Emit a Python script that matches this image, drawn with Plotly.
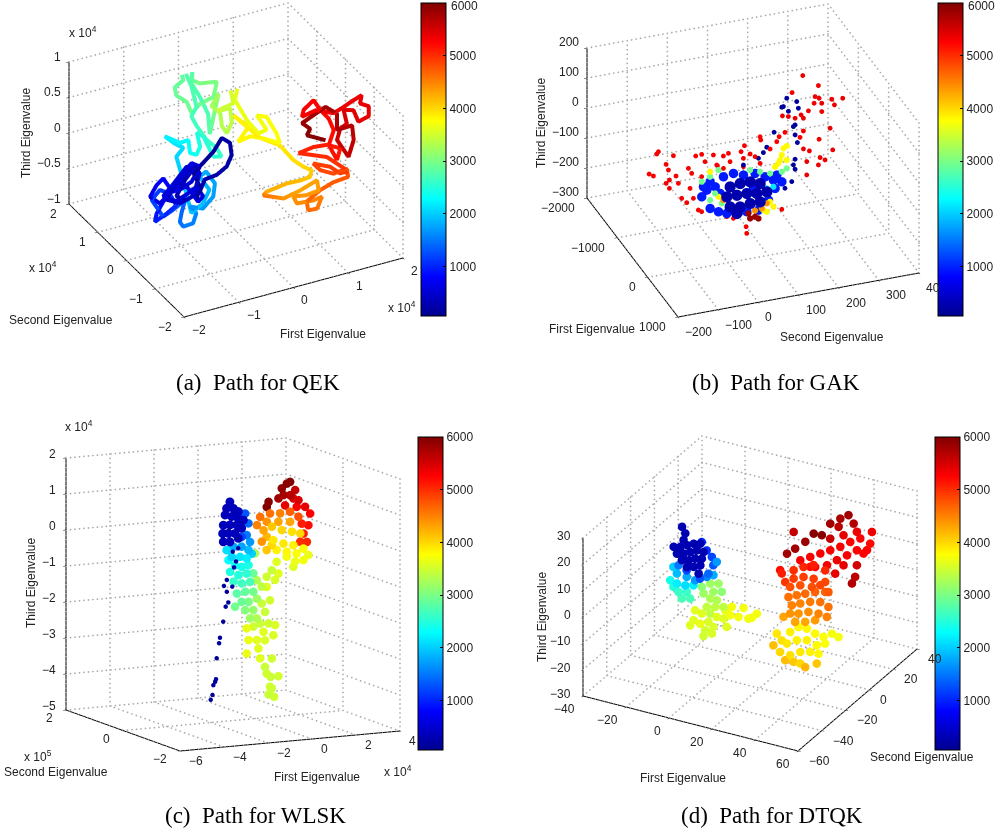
import math
import plotly.graph_objects as go

W, H = 997, 835
JET = [[0, 'rgb(0,0,143)'], [0.125, 'rgb(0,0,255)'], [0.375, 'rgb(0,255,255)'],
       [0.625, 'rgb(255,255,0)'], [0.875, 'rgb(255,0,0)'], [1, 'rgb(128,0,0)']]
CB_TICKS = [1000, 2000, 3000, 4000, 5000, 6000]

# ---------- panel (a) path, rows are (first, second, third, frame); eigenvalues in units of 1e4
A_NAVY = [(-1.14,-.8,0,60),(-1.08,-.8,.17,80),(-1.20,-.8,.39,100),(-1.02,-.8,.49,120),(-.83,-.8,.61,140),(-.68,-.8,.77,160),
 (-.53,-.8,.67,180),(-.50,-.8,.49,200),(-.59,-.8,.35,220),(-.77,-.8,.27,240),(-.99,-.8,.25,260),(-1.08,-.8,.10,280),
 (-1.32,-.8,.03,300),(-1.51,-.8,.12,320),(-1.35,-.8,.32,340),(-1.14,-.8,.49,360),(-1.32,-.8,.41,380),(-1.51,-.8,.31,400),
 (-1.69,-.8,.11,420),(-1.44,-.8,.01,440),(-1.20,-.8,.06,460),(-1.08,-.8,.36,480),(-1.32,-.8,.50,500),(-1.51,-.8,.35,520),(-1.69,-.8,.20,540)]
A_NAVY_LOOPS = [(-1.44,-.8,.20,545),(-1.23,-.8,.27,550),(-1.08,-.8,.45,555),(-1.23,-.8,.53,560),(-1.44,-.8,.39,565),(-1.63,-.8,.26,570),(-1.75,-.8,.17,575),(-1.51,-.8,.05,580),
 (-1.29,-.8,.12,585),(-1.14,-.8,.18,590),(-1.02,-.8,.02,592),(-1.11,-.8,-.04,594),(-1.32,-.8,.22,596),(-1.57,-.8,.20,598),(-1.38,-.8,.38,599),(-1.20,-.8,.43,600)]
A_BLUE = [(-1.60,-.4,-.12,600),(-1.78,-.4,.01,650),(-1.66,-.4,.15,700),(-1.54,-.4,.22,750),(-1.39,-.4,.02,800),(-1.54,-.4,-.11,850),
 (-1.66,-.4,-.25,900),(-1.69,-.4,-.36,950),(-1.48,-.4,-.29,1000),(-1.30,-.4,-.21,1050),(-1.42,-.4,-.02,1100),(-1.60,-.4,.07,1150),
 (-1.75,-.4,-.04,1200),(-1.54,-.4,-.32,1250),(-1.36,-.4,-.26,1300),(-1.14,-.4,-.17,1350)]
A_SKY = [(-.89,.2,-.64,1400),(-.92,.2,-.76,1450),(-.86,.2,-.84,1500),(-.68,.2,-.83,1550),(-.62,.2,-.70,1600),(-.74,.2,-.58,1640),
 (-.50,.2,-.66,1680),(-.31,.2,-.53,1720),(-.28,.2,-.35,1760),(-.44,.2,-.15,1800),(-.56,.2,-.20,1840),(-.38,.2,-.42,1880),(-.50,.2,-.59,1920),(-.71,.2,-.68,1960)]
A_CYAN = [(-.81,.4,-.13,2000),(-.88,.4,.07,2050),(-.75,.4,.17,2100),(-.91,.4,.26,2150),(-1.09,.4,.40,2200),(-.81,.4,.25,2250),(-.66,.4,.26,2300),(-.63,.4,.07,2350),(-.51,.4,.02,2400)]
A_TEAL = [(-.34,.6,.02,2450),(-.40,.6,.23,2480),(-.28,.6,.15,2510),(-.10,.6,-.17,2540),(.05,.6,-.20,2570),(-.04,.6,-.06,2600),(-.22,.6,.09,2630),(-.40,.6,.32,2660),(-.50,.6,.48,2690)]
A_GREEN = [(-.30,.8,.49,2720),(-.39,.8,.79,2750),(-.51,.8,1.03,2800),(-.60,.8,1.07,2830),(-.54,.8,.92,2860),(-.70,.8,.85,2890),(-.67,.8,.73,2910),
 (-.48,.8,.60,2930),(-.39,.8,.42,2950),(-.24,.8,.52,2970),(.01,.8,.57,2990),(.07,.8,.77,3010),(-.24,.8,.81,3030),(-.39,.8,.89,2850),
 (-.36,.8,1.19,2650),(-.39,.8,.84,2850),(-.24,.8,.62,2700),(-.09,.8,.35,2750),(-.06,.8,.06,2800)]
A_LIME = [(-.16,.3,.85,3200),(-.29,.3,.70,3250),(-.13,.3,.57,3300),(-.10,.3,.38,3330),(-.01,.3,.26,3360),(.08,.3,.39,3390),(.05,.3,.60,3420),(-.19,.3,.61,3450)]
A_YELLOW = [(-.05,0,.81,3500),(-.11,0,1.06,3540),(.04,0,1.26,3570),(.23,0,1.38,3600),(.07,0,1.16,3620),(-.02,0,.85,3640),(.20,0,.52,3660),(.41,0,.29,3680),
 (.56,0,.31,3700),(.38,0,.55,3720),(.56,0,.49,3740),(.74,0,.22,3760),(.80,0,.07,3780),(.50,0,.20,3800),(.26,0,.28,3810),(.04,0,.25,3820),(.23,0,.42,3830),
 (-.05,0,.64,3840),(.44,0,.22,3860),(.80,0,.04,3900),(1.05,0,-.22,3950),(1.23,0,-.35,4000),(1.38,0,-.43,4050),(1.35,0,-.52,4100)]
A_ORANGE = [(.96,-.4,-.33,4150),(.72,-.4,-.32,4200),(.35,-.4,-.36,4250),(.29,-.4,-.40,4600),(.66,-.4,-.52,4400),(.96,-.4,-.47,4300),(1.27,-.4,-.39,4320),(1.30,-.4,-.54,4350),
 (1.08,-.4,-.56,4380),(.84,-.4,-.53,4400),(.90,-.4,-.64,4430),(1.20,-.4,-.66,4460),(1.36,-.4,-.64,4500),(1.27,-.4,-.79,4600),(1.11,-.4,-.78,4640),(1.08,-.4,-.65,4660),
 (1.33,-.4,-.54,4680),(1.57,-.4,-.48,4720),(1.84,-.4,-.46,4760),(1.81,-.4,-.34,4800)]
A_VERMILION = [(1.57,-.4,-.36,4830),(1.33,-.4,-.26,4860),(1.20,-.4,-.14,4880),(1.51,-.4,-.25,4900),(1.69,-.4,-.38,4920),(1.84,-.4,-.38,4950),(1.45,-.4,-.10,4990)]
A_RED = [(1.04,-.2,-.04,5050),(1.31,-.2,-.01,5080),(1.56,-.2,-.03,5100),(1.80,-.2,-.13,5120),(1.74,-.2,-.28,5150),(1.59,-.2,-.04,5180),(1.68,-.2,.15,5200),(1.59,-.2,.33,5220),
 (1.44,-.2,.48,5240),(1.31,-.2,.65,5260),(1.13,-.2,.55,5280),(1.10,-.2,.46,5300),(1.35,-.2,.50,5320),(1.68,-.2,.39,5340),(1.86,-.2,.44,5350),(1.83,-.6,.70,5360),(1.98,-.6,.74,5370),
 (1.95,-.6,.63,5380),(1.90,-1,.76,5390),(1.90,-1,.62,5400),(1.92,-.6,.38,5420),(1.83,-.6,.56,5440),(1.86,-.2,.40,5460),(1.92,-.2,.19,5480)]
A_MAROON = [(1.80,-.2,.15,5520),(1.74,-.2,0,5560),(1.95,-.2,-.28,5600),(1.94,-.4,.04,5640),(1.91,-.4,.25,5680),(1.74,-.2,.14,5720),(1.74,-.2,.37,5760),(1.53,-.2,.51,5800),
 (1.10,-.2,.37,5850),(1.25,-.2,.26,5900),(1.19,-.2,.18,5950),(1.53,-.2,.04,5990)]
A_PATH = [A_NAVY, A_NAVY_LOOPS, A_BLUE, A_SKY, A_CYAN, A_TEAL, A_GREEN, A_LIME, A_YELLOW, A_ORANGE, A_VERMILION, A_RED, A_MAROON]

# ---------- panel (b)
B_RED_FAR = [(-1000,261.5,127.8),(-1000,300.5,84.9),(-1000,235,77.6),(-1000,292.2,50.2),(-1000,302.2,42.2),(-1000,333.7,31.2),(-1000,361,27.9),(-1000,289.8,28.7),(-1000,308.8,24),
 (-1000,340.4,10.7),(-1000,275.6,6.6),(-1000,308.8,-3.8),(-1000,257.4,-2.3),(-1000,210.9,5.7),(-1000,242.4,-9.8),(-1000,225.8,-.2),(-1000,263.2,-14.9),(-1000,329.6,-64.4),(-1000,302.2,-94.4),
 (-1000,336.2,-138.2),(-1000,263.2,-117.1),(-1000,278,-127.4),(-1000,304.7,-156.1),(-1000,317,-166.9),(-1000,300.5,-179.6),(-1000,271.5,-161.3),(-1000,271.5,-205.8)]
B_RED_MID = [(-500,171.5,-230),(-500,117.5,25.3),(-500,119.2,13.9),(-500,164.8,13.8),(-500,179.5,24.7),(-500,225.4,17.9),(-500,217,-1.1),(-500,159,-1.4),(-500,142.4,-21.8),(-500,92.6,-26.3),
 (-500,78.5,4.9),(-500,70.2,-13),(-500,38.7,-10.9),(-500,26.2,-16.8),(-500,1.3,-7.3),(-500,-27.9,2),(-500,-42.8,.1),(-500,-98.3,14.8),(-500,-135.6,37.2),(-500,-139.9,30.6),(-500,-116.5,-9.7),
 (-500,-110.7,-29.9),(-500,-158.8,-31.6),(-500,-148,-40.8),(-500,-108.2,-63.9),(-500,-91.8,-54.6),(-500,-85.8,-80.4),(-500,-116.5,-73),(-500,-108.2,-91.7),(-500,-61,-36.6),(-500,-52.8,-55.2),
 (-500,-19.6,-24.4),(-500,11.3,-45.3),(-500,42.8,-39.7),(-500,26.2,-57.9),(-500,76,-36.7),(-500,105,-38.2),(-500,117.5,-63.6),(-500,-77.7,-132.4),(-500,-65.1,-150),(-500,-48.5,-139.6),
 (-500,-56.8,-104.2),(-500,-27.9,-72.4),(-500,9.6,-42.7),(-500,76,-64.4),(-500,-36.2,-181.4),(-500,-27.9,-189.1),(-500,34.5,-221),(-500,51.1,-230.6),(-500,84.3,-288.7),(-500,82.7,-266.1)]
B_MAROON = [(-100,62.4,-180.8),(-100,74.8,-178.2),(-100,58.1,-163),(-100,83.2,-186)]
B_NAVY_FAR = [(-1000,221.6,62),(-1000,209.2,35),(-1000,213.4,36.2),(-1000,246.5,44.8),(-1000,250.6,21.6),(-1000,225.8,17.6),(-1000,242.4,-32),(-1000,238.2,-36.6),(-1000,242.4,-65.3),(-1000,248.2,-92.3),
 (-1000,190.2,-43.7),(-1000,171.9,-89.2),(-1000,163.5,-105),(-1000,151.2,-120.8),(-1000,242.4,-146.4),(-1000,238.2,-164.3),(-1000,242.4,-179.8),(-1000,234,-218.9),(-1000,217.2,-237),(-500,76,-58.9)]
B_NAVY_CORE = [(0,5,-48),(0,30,-43),(0,54.9,-43.6),(0,79.8,-55.2),(0,-3.3,-79.3),(0,21.7,-79.9),(0,46.6,-80.3),(0,71.5,-86.4),(0,96.4,-87),(0,5,-114.7),(0,30,-120.8),(0,54.9,-115.8),(0,79.8,-116.3),(0,21.7,-141)]
B_BLUE = [(-400,-22.8,-104.9),(-400,-35.4,-124.1),(-400,6.3,-184.2),(-400,-2,-98.9),(-400,18.7,-70.7),(-400,43.6,-65.6),(-400,68.5,-77.2),(-400,97.5,-78.8),(-400,122.4,-96),(-400,143.1,-112.1),(-400,164,-122.8),
 (-400,147.3,-140.9),(-400,130.6,-175.8),(-400,27,-194.9),(-400,76.8,-201.4),(-400,105.9,-203),(-400,10.4,-124.1),(-400,-14.5,-79.2),(-400,151.5,-97.6),(-400,93.4,-122.2),(-400,-14.5,-168.1),(-400,-31.1,-91.8)]
B_TEAL = [(-300,119,-120.9),(-300,135.5,-119.3)]
B_GREEN = [(-300,-43,-59),(-300,-22.1,-47.6),(-300,-1.3,-30.3),(-300,77.5,-49.7),(-300,102.4,-61.3),(-300,127.3,-72.9),(-300,156.4,-74.4),(-300,168.8,-66.4),(-300,-9.6,-106.1),(-300,6.9,-143.4),(-300,-22.1,-125.3)]
B_YELLOW = [(-300,-22.1,-30.6),(-300,148,-44.7),(-300,156.4,-18.9),(-300,160.5,2.3),(-300,168.8,8),(-300,139.7,-53.7),(-300,168.8,-38.7),(-300,119,-198.7),(-300,135.5,-186),(-300,127.3,-167.3),(-300,110.7,-191.1),(-300,-1.3,-119.2),(-300,152.1,-34.6)]
B_ORANGE = [(-300,119,-170.9),(-300,106.6,-184.6),(-300,89.9,-188),(-300,11.1,-133.4)]
B_SPARSE = [(B_RED_FAR, 5350), (B_RED_MID, 5300), (B_NAVY_FAR, 150)]
B_MEDIUM = [(B_MAROON, 5850), (B_TEAL, 2150), (B_GREEN, 2950), (B_YELLOW, 3800), (B_ORANGE, 4400)]

# ---------- panel (c), first and third in units of 1e4, second in units of 1e5
C_NAVY_BLOB = [(-2.44,-1,1.44),(-2.59,-1,1.27),(-2.28,-1,1.25),(-2.06,-1,1.15),(-2.66,-1,1.09),(-2.36,-1,1.03),(-2.06,-1,.96),(-1.83,-1,.90),(-2.74,-1,.81),(-2.44,-1,.80),(-2.13,-1,.78),(-2.77,-1,.58),(-2.51,-1,.57),(-2.21,-1,.55),(-1.91,-1,.68),(-2.74,-1,.35),(-2.44,-1,.33),(-2.06,-1,.41)]
C_NAVY_TRAIL = [(-3.31,-1,-4.01),(-3.23,-1,-3.88),(-3.19,-1,-3.61),(-3.07,-1,-3.45),(-3.11,-1,-3.52),(-3.04,-1,-2.87),(-2.93,-1,-2.46),(-2.89,-1,-2.31),(-2.74,-1,-1.87),(-2.63,-1,-1.46),(-2.51,-1,-1.35),(-2.58,-1,-1.05),(-2.71,-1,-.88),(-2.58,-1,-.72),(-2.33,-1,-.92),(-2.25,-1,-.39),(-2.16,-1,-.23),(-2.06,-1,.13),(-2.10,-1,.41),(-2.31,-1,.05)]
C_BLUE_ROWS = [(-1.10,-.5,.90,1300),(-.95,-.5,.62,1400),(-1.26,-.5,.26,1200),(-1.03,-.5,.30,1500),(-.88,-.5,.10,1700),(-1.63,-.5,.01,1800),(-1.26,-.5,-.01,1750),(-.95,-.5,-.12,1900),(-.80,-.5,-.23,2000),(-1.94,-.5,-.07,2100),(-1.71,-.5,-.27,2050),(-1.33,-.5,-.29,2150),(-1.03,-.5,-.35,2200)]
C_GREEN_ROWS = [(-1.21,0,-.53,2300),(-.91,0,-.69,2350),(-.61,0,-.75,2400),(-.30,0,-.72,2450),(0,0,-.41,3300),(-1.14,0,-.86,2450),(-.76,0,-.97,2500),(-.38,0,-.95,2550),(-.08,0,-.96,2900),(-.98,0,-1.14,2600),(-.61,0,-1.21,2650),(-.23,0,-1.19,2700),(.08,0,-1.16,3300),(-.83,0,-1.48,2800),(-.45,0,-1.45,2850),(-.08,0,-1.47,2950),(.30,0,-1.35,3400),(-.61,0,-1.72,2900),(-.30,0,-1.74,3000),(.08,0,-1.67,3200),(-.91,0,-1.84,2950),(-.45,0,-1.96,3050),(-.08,0,-1.98,3150),(.30,0,-1.82,3450),(.53,0,-1.37,3600),(.68,0,-1.75,3500),(.45,0,-2.06,3450),(.08,0,-2.22,3300),(-.23,0,-2.20,3200)]
C_LIME_ROWS = [(.23,0,-2.37,3450),(.61,0,-2.39,3500),(.91,0,-2.45,3550),(.83,0,-2.73,3550),(.38,0,-2.61,3600),(-.08,0,-2.44,3500),(-.38,0,-2.47,3650),(-.30,0,-2.80,3650),(.08,0,-2.82,3600),(.45,0,-2.85,3550),(-.38,0,-3.17,3650),(.15,0,-3.06,3600),(.23,0,-3.34,3600),(.76,0,-3.37,3500),(.45,0,-3.59,3450),(.53,0,-3.78,3500),(.71,0,-3.88,3450),(1.06,0,-3.88,3500),(.68,0,-4.15,3500),(.61,0,-4.36,3450),(.86,0,-4.44,3500),(.76,0,-4.20,3450)]
C_YELLOW_ROWS = [(.33,-.5,-.52,3600),(.79,-.5,-.40,3700),(1.17,-.5,-.56,3650),(1.09,-.5,-.70,3600),(1.55,-.5,-.54,3700),(1.77,-.5,-.41,3650),(.11,-.5,-.74,3450),(-.12,-.5,-.91,3500),(.26,-.5,-1.02,3550),(.41,-.5,-.85,3600),(.18,-.5,.09,3900),(.64,-.5,-.03,3900),(1.09,-.5,-.10,3850),(.33,-.5,-.19,3850),(.79,-.5,-.27,3800),(1.24,-.5,-.34,3750),(1.55,-.5,-.22,3750),(-.12,-.5,-.17,4100),(.11,-.5,-.04,4000)]
C_AMBER_ROWS = [(.06,-.25,.30,4300),(.44,-.25,.38,4100),(.89,-.25,.26,4000),(1.35,-.25,.19,3950),(1.73,-.25,.12,4000),(.21,-.25,.11,4200),(-.02,-.25,-.01,4400),(-.24,-.25,.46,4500)]
C_ORANGE_ROWS = [(.23,0,.59,4600),(.68,0,.66,4600),(1.14,0,.64,4500),(1.59,0,.66,4700),(1.97,0,.50,4800),(.53,0,.44,4400),(1.06,0,.41,4300),(1.59,0,.38,4300)]
C_RED_ROWS = [(2.77,.5,.12,5100),(3.07,.5,.06,5200),(3.15,.5,.38,5300),(2.92,.5,.58,5400),(2.62,.5,.78,5500),(2.85,.5,-.16,5100),(3.0,.5,-.40,5050),(2.70,.5,-.38,5000),(2.54,.5,.60,5300),(2.39,.5,.84,5500),(2.01,.5,.67,5400)]
C_MAROON_ROWS = [(1.94,.5,.96,5750),(1.86,.5,1.15,5900),(2.09,.5,1.27,5950),(2.24,.5,1.31,5980),(2.47,.5,1.07,5600),(1.26,.5,.81,5950),(1.18,.5,.67,5980),(2.24,.5,.94,5700),(1.71,.5,.88,5800)]
C_GROUPS = [C_BLUE_ROWS, C_GREEN_ROWS, C_LIME_ROWS, C_YELLOW_ROWS, C_AMBER_ROWS, C_ORANGE_ROWS, C_RED_ROWS, C_MAROON_ROWS]
C_NAVY_BLOB_T = 350
C_NAVY_TRAIL_T = 150

# ---------- panel (d)
D_NAVY = [(-16.1,-20,23.8),(-14.6,-20,21.6),(-15.4,-20,18.9),(-20,-20,15.4),(-16.9,-20,16),(-13.8,-20,17.3),(-10.7,-20,18.5),(-7.6,-20,19.2),(-18.5,-20,13.1),(-15.4,-20,13.8),(-12.3,-20,15),(-9.2,-20,16.3),(-6.1,-20,16.3),(-16.2,-20,11.1),(-13.1,-20,11.7),(-10,-20,13),(-6.9,-20,13.6),(-13.8,-20,9),(-10.7,-20,9.7),(-7.6,-20,10.9),(-8.4,-20,7.6)]
D_BLUE_ROWS = [(-12.5,-10,14.9,1000),(-10.2,-10,12.2,1100),(-7.8,-10,10.2,1200),(-7.1,-10,7.2,1300),(-9.4,-10,3.5,1400),(-13.3,-10,.8,1300),(-19.5,-10,2.7,1200),(-23.3,-10,3.8,1500),(-5.5,-10,8.8,1700)]
D_TEAL_ROWS = [(-31.2,0,-2.3,2000),(-29.6,0,-4.5,1900),(-25,0,-4.8,1800),(-21.1,0,-5.3,1700),(-15.7,0,-2.9,1600),(-12.6,0,-1.6,1800),(-32.7,0,-7.7,2400),(-29.6,0,-8.3,2200),(-25.7,0,-8.2,2100),(-21.9,0,-7.4,2200),(-31.2,0,-9.9,2500),(-28.8,0,-11.3,2600),(-27.3,0,-13.5,2700),(-23.4,0,-12.7,2700),(-25,0,-10.5,2600)]
D_LIME_ROWS = [(-18,0,-7.2,3100),(-14.1,0,-5.1,3200),(-10.2,0,-4.3,3200),(-8.7,0,-7.1,3100),(-12.6,0,-7.9,3200),(-17.2,0,-9.5,3200),(-14.1,0,-10.8,3300),(-11,0,-10.8,3300),(-7.9,0,-12.7,3400),(-11.8,0,-13.5,3400),(-15.7,0,-14.3,3400),(-14.1,0,-16.5,3400)]
D_CHART_ROWS = [(-21.1,0,-16.7,3600),(-18,0,-17.3,3600),(-21.9,0,-20.6,3600),(-18.8,0,-21.3,3650),(-14.9,0,-19.8,3550),(-11,0,-17.1,3600),(-7.1,0,-13.8,3650),(-4,0,-11.8,3700),(-4.8,0,-15.2,3700),(-7.9,0,-17.1,3600),(-12.6,0,-21.2,3550),(-16.4,0,-23.3,3500),(-17.2,0,-25.7,3500),(-13.3,0,-23.9,3550),(-23.4,0,-22.9,3600),(-.9,0,-15,3700),(1.4,0,-11.1,3700),(3.7,0,-14.7,3700),(5.3,0,-14,3700),(7.6,0,-12,3700),(-6.4,0,-19.9,3600)]
D_GOLD_ROWS = [(16.9,0,-17.6,3900),(15.3,0,-22.4,4150),(19.2,0,-19.7,3950),(23.1,0,-15.7,3850),(27,0,-13,3800),(30.9,0,-12.8,3800),(34.7,0,-13.9,3800),(38.6,0,-14.3,3750),(42.5,0,-12.3,3700),(45.6,0,-12.9,3700),(21.6,0,-20.4,3900),(26.2,0,-18.2,3850),(30.9,0,-17.2,3850),(35.5,0,-18.1,3800),(39.4,0,-16.7,3750),(18.4,0,-24.3,4000),(23.1,0,-24.5,3950),(27.8,0,-22.3,3900),(32.4,0,-21.3,3850),(36.3,0,-21.2,3800),(24.7,0,-26.7,4100),(30.1,0,-27.6,4200),(35.5,0,-25.1,4100),(20.8,0,-26.9,4150),(27.8,0,-26.7,4000)]
D_ORANGE_ROWS = [(22.3,0,-2.6,4600),(26.2,0,-1.1,4600),(30.1,0,.3,4650),(34.7,0,1.9,4700),(39.4,0,2.9,4700),(23.9,0,-5.4,4500),(27.8,0,-3.9,4500),(32.4,0,-2.3,4550),(37.1,0,-1.4,4600),(40.9,0,-2.5,4600),(23.1,0,-8.7,4400),(27,0,-7.9,4400),(31.6,0,-6.3,4450),(36.3,0,-6,4500),(40.2,0,-6.4,4500),(20,0,-10.6,4300),(25.4,0,-11.4,4300),(30.1,0,-10.4,4300),(34.7,0,-8.8,4350)]
D_VERMILION_ROWS = [(19.2,0,5.7,5100),(20.8,0,2.8,4950),(24.7,0,4.9,4900),(29.3,0,6.5,4900),(34,0,6.8,4900),(39.4,0,6.7,4850),(40.9,0,3.2,4750),(23.1,0,1.4,4800),(27.8,0,3,4800),(33.2,0,3.5,4800),(37.1,0,5,4850),(24.7,0,8.1,5000),(29.3,0,10.3,5050),(34,0,12,5100),(39.4,0,11.1,5050)]
D_RED_ROWS = [(22.3,10,7.5,5300),(26.9,10,9.7,5300),(31.6,10,12,5300),(36.2,10,14.2,5300),(40.9,10,16.5,5300),(45.5,10,19.3,5250),(50.2,10,21.6,5250),(54.8,10,20.6,5200),(53.3,10,17.8,5250),(48.6,10,16.8,5250),(44,10,13.9,5300),(39.3,10,11.1,5350),(34.7,10,8.2,5300),(42.4,10,9.8,5400),(48.6,10,11.1,5500),(46.3,10,3.7,5700),(51.7,10,16.2,5250),(55.6,10,25.2,5350),(29.2,10,6.4,5250),(38.5,10,5.8,5400),(47.8,10,6.5,5650),(42.4,10,21.2,5400),(48.6,10,23.8,5350),(36.2,10,18.6,5600),(26.9,10,6,5200),(12.9,10,1.8,5200)]
D_MAROON_ROWS = [(16.1,10,8.7,5800),(19.9,10,11.4,5800),(24.6,10,15,5850),(28.5,10,18.9,5950),(32.3,10,19.1,5950),(36.2,10,24.3,5800),(40.9,10,27.2,5750),(44.7,10,29.3,5800),(47.1,10,26.6,5700),(40.1,10,23.9,5650),(19.2,10,17.6,5600)]
D_NAVY_T = 300
D_GROUPS = [D_BLUE_ROWS, D_TEAL_ROWS, D_LIME_ROWS, D_CHART_ROWS, D_GOLD_ROWS, D_ORANGE_ROWS, D_VERMILION_ROWS, D_RED_ROWS, D_MAROON_ROWS]

# ---------- frames: box geometry
PANELS = [
 dict(xr=(-2,2), yr=(-2,2), zr=(-1,1), xt=[-2,-1,0,1,2], yt=[-2,-1,0,1,2], zt=[-1,-.5,0,.5,1],
      o=(184,317), ex=(403,258), ey=(69,204), ez=142, dom=(0,480,0,400), cb=(421,446,3,316), cmin=60,
      xl=dict(xanchor='left', xshift=6, yshift=-13), yl=dict(xanchor='right', xshift=-10, yshift=-10), zl=dict(xanchor='right', xshift=-6, yshift=5),
      titles=[('Third Eigenvalue',26,133,-90),('Second Eigenvalue',61,320,0),('First Eigenvalue',323,334,0),
              ('x 10<sup>4</sup>',83,32,0),('x 10<sup>4</sup>',43,267,0),('x 10<sup>4</sup>',402,307,0)],
      caption=('(a)\u2002Path for QEK',258,382)),
 dict(xr=(-2000,1000), yr=(-200,400), zr=(-300,200), xt=[-2000,-1000,0,1000], yt=[-200,-100,0,100,200,300,400], zt=[-300,-200,-100,0,100,200],
      o=(587,198), ex=(678,317), ey=(828,154), ez=150, dom=(510,997,0,400), cb=(938,963,3,316), cmin=60,
      xl=dict(xanchor='right', xshift=-10, yshift=-10), yl=dict(xanchor='left', xshift=5, yshift=-15), zl=dict(xanchor='right', xshift=-6, yshift=6),
      titles=[('Third Eigenvalue',541,123,-90),('First Eigenvalue',592,329,0),('Second Eigenvalue',832,337,0)],
      caption=('(b)\u2002Path for GAK',776,382), ylabels={400:'40'}),
 dict(xr=(-6,4), yr=(-2,2), zr=(-5,2), xt=[-6,-4,-2,0,2,4], yt=[-2,0,2], zt=[-5,-4,-3,-2,-1,0,1,2],
      o=(180,751), ex=(400,731), ey=(66,710), ez=252, dom=(0,480,425,825), cb=(418,443,437,750), cmin=60,
      xl=dict(xanchor='left', xshift=7, yshift=-10), yl=dict(xanchor='right', xshift=-11, yshift=-8), zl=dict(xanchor='right', xshift=-8, yshift=4),
      titles=[('Third Eigenvalue',31,583,-90),('Second Eigenvalue',56,772,0),('First Eigenvalue',317,777,0),
              ('x 10<sup>4</sup>',79,426,0),('x 10<sup>5</sup>',38,756,0),('x 10<sup>4</sup>',398,771,0)],
      caption=('(c)\u2002Path for WLSK',255,815)),
 dict(xr=(-40,60), yr=(-60,40), zr=(-30,30), xt=[-40,-20,0,20,40,60], yt=[-60,-40,-20,0,20,40], zt=[-30,-20,-10,0,10,20,30],
      o=(583,696), ex=(798,751), ey=(702,594), ez=158, dom=(510,997,425,825), cb=(935,960,437,750), cmin=60,
      xl=dict(xanchor='right', xshift=-6, yshift=-13), yl=dict(xanchor='left', xshift=9, yshift=-10), zl=dict(xanchor='right', xshift=-10, yshift=2),
      titles=[('Third Eigenvalue',542,617,-90),('First Eigenvalue',683,778,0),('Second Eigenvalue',922,757,0)],
      caption=('(d)\u2002Path for DTQK',772,815)),
]

U, D = 100.0, 3.0
FONT = dict(family='Liberation Sans', size=12, color='#222')
DOT_PX = 4.5

def rows(groups):
    out = [r for g in groups for r in g]
    return [r[0] for r in out], [r[1] for r in out], [r[2] for r in out], [r[3] for r in out]

def tagged(pairs):
    out = [(r[0], r[1], r[2], t) for g, t in pairs for r in g]
    return [r[0] for r in out], [r[1] for r in out], [r[2] for r in out], [r[3] for r in out]

def fmt(v):
    return ('%g' % v).replace('-', '\u2212')

def view(p):
    xr_, xu = p['ex'][0]-p['o'][0], -(p['ex'][1]-p['o'][1])
    yr_, yu = p['ey'][0]-p['o'][0], -(p['ey'][1]-p['o'][1])
    s = math.sqrt((xu/xr_)*(yu/(-yr_)))
    c = math.sqrt(1-s*s)
    th = math.atan2(xu/s, xr_)
    return s, c, th, math.hypot(xr_, xu/s), math.hypot(yr_, yu/s), p['ez']/c

def grid(p, wx, wy):
    """Dotted frame lines of the three back walls, as rows of small dots along each tick."""
    x0, x1 = p['xr']; y0, y1 = p['yr']; z0, z1 = p['zr']
    ex = (p['ex'][0]-p['o'][0], p['ex'][1]-p['o'][1])
    ey = (p['ey'][0]-p['o'][0], p['ey'][1]-p['o'][1])
    X, Y, Z = [], [], []
    def seg(a, b):
        u, v, w = (b[0]-a[0])/(x1-x0), (b[1]-a[1])/(y1-y0), (b[2]-a[2])/(z1-z0)
        ln = math.hypot(u*ex[0]+v*ey[0], u*ex[1]+v*ey[1]-w*p['ez'])
        n = max(2, int(ln/DOT_PX))
        for k in range(n+1):
            q = k/n
            X.append(a[0]+(b[0]-a[0])*q); Y.append(a[1]+(b[1]-a[1])*q); Z.append(a[2]+(b[2]-a[2])*q)
    for y in p['yt']:
        seg((wx, y, z0), (wx, y, z1)); seg((x0, y, z0), (x1, y, z0))
    for x in p['xt']:
        seg((x, wy, z0), (x, wy, z1)); seg((x, y0, z0), (x, y1, z0))
    for z in p['zt']:
        seg((wx, y0, z), (wx, y1, z)); seg((x0, wy, z), (x1, wy, z))
    return X, Y, Z

fig = go.Figure()
layout = dict(width=W, height=H, margin=dict(l=0, r=0, t=0, b=0), paper_bgcolor='white', font=FONT, showlegend=False)
anns = []
for i, p in enumerate(PANELS):
    n = '' if i == 0 else str(i+1)
    s, c, th, A, B, C = view(p)
    r = (math.cos(th), -math.sin(th), 0)
    f = (math.sin(th), math.cos(th))
    up = (f[0]*s, f[1]*s, c)
    dirv = (-f[0]*c, -f[1]*c, s)
    l, rgt, t, b = p['dom']
    cx, cy = (l+rgt)/2, (t+b)/2
    ox0, oy0 = p['o']
    bx = ox0 + (p['ex'][0]-ox0)/2 + (p['ey'][0]-ox0)/2
    by = oy0 + (p['ex'][1]-oy0)/2 + (p['ey'][1]-oy0)/2 - p['ez']/2
    offx, offy = (bx-cx)/U/2, -(by-cy)/U/2
    ctr = [-(offx*r[k] + offy*up[k]) for k in range(3)]
    eye = [ctr[k] + D*dirv[k] for k in range(3)]
    wx = p['xr'][1] if f[0] > 0 else p['xr'][0]
    wy = p['yr'][1] if f[1] > 0 else p['yr'][0]

    def axis(rng, tv):
        return dict(range=list(rng), tickvals=tv, showgrid=False, zeroline=False, showline=True,
                    linecolor='black', linewidth=2, ticks='outside', ticklen=3, tickcolor='black', tickwidth=1,
                    showticklabels=False, showbackground=False, title=dict(text=''), showspikes=False)
    sa = []
    x0, y0, z0 = p['xr'][0], p['yr'][0], p['zr'][0]
    ax_y = p['yr'][0] if f[1] > 0 else p['yr'][1]
    ax_x = p['xr'][0] if f[0] > 0 else p['xr'][1]
    corners = [(p['xr'][a], p['yr'][b_]) for a in (0, 1) for b_ in (0, 1)]
    def px(cn):
        u = (cn[0]-p['xr'][0])/(p['xr'][1]-p['xr'][0]); v = (cn[1]-p['yr'][0])/(p['yr'][1]-p['yr'][0])
        return ox0 + u*(p['ex'][0]-ox0) + v*(p['ey'][0]-ox0)
    zc = min(corners, key=px)
    for v in p['xt']:
        sa.append(dict(x=v, y=ax_y, z=z0, text=fmt(v), showarrow=False, font=FONT, **p['xl']))
    for v in p['yt']:
        sa.append(dict(x=ax_x, y=v, z=z0, text=p.get('ylabels', {}).get(v, fmt(v)), showarrow=False, font=FONT, **p['yl']))
    for v in p['zt']:
        sa.append(dict(x=zc[0], y=zc[1], z=v, text=fmt(v), showarrow=False, font=FONT, **p['zl']))

    layout['scene'+n] = dict(domain=dict(x=[l/W, rgt/W], y=[1-b/H, 1-t/H]),
        aspectmode='manual', aspectratio=dict(x=A/(2*U), y=B/(2*U), z=C/(2*U)),
        camera=dict(projection=dict(type='orthographic'), up=dict(x=0, y=0, z=1),
                    eye=dict(x=eye[0], y=eye[1], z=eye[2]), center=dict(x=ctr[0], y=ctr[1], z=ctr[2])),
        xaxis=axis(p['xr'], p['xt']), yaxis=axis(p['yr'], p['yt']), zaxis=axis(p['zr'], p['zt']),
        annotations=sa, bgcolor='white')
    ca = 'coloraxis' + n
    ct, cb_, cl, cr = p['cb'][2], p['cb'][3], p['cb'][0], p['cb'][1]
    layout[ca] = dict(colorscale=JET, cmin=p['cmin'], cmax=6000, colorbar=dict(
        x=cl/W, xanchor='left', y=1-cb_/H, yanchor='bottom', len=(cb_-ct)/H, lenmode='fraction',
        thickness=cr-cl, thicknessmode='pixels', xpad=0, ypad=0, tickvals=CB_TICKS, ticks='inside', ticklen=3,
        tickcolor='black', tickfont=FONT, outlinecolor='black', outlinewidth=1, borderwidth=0))
    if ct < 10:   # the top colourbar label sits at the page edge, where plotly drops it
        anns.append(dict(xref='paper', yref='paper', x=(cr+3)/W, y=1-(ct+3)/H, text='6000', showarrow=False,
                         xanchor='left', yanchor='middle', font=FONT))
    gx, gy, gz = grid(p, wx, wy)
    fig.add_trace(go.Scatter3d(x=gx, y=gy, z=gz, mode='markers', scene='scene'+n, hoverinfo='skip',
                               marker=dict(color='#aaaaaa', size=1, line=dict(width=0))))
    for text, tx, ty, rot in p['titles']:
        anns.append(dict(xref='paper', yref='paper', x=tx/W, y=1-ty/H, text=text, showarrow=False, textangle=rot,
                         xanchor='center', yanchor='middle', font=FONT))
    cap, tx, ty = p['caption']
    anns.append(dict(xref='paper', yref='paper', x=tx/W, y=1-ty/H, text=cap, showarrow=False, xanchor='center', yanchor='middle',
                     font=dict(family='Liberation Serif', size=23, color='black')))

def cloud(xyzt, scene, ca, size):
    x, y, z, tv = xyzt
    fig.add_trace(go.Scatter3d(x=x, y=y, z=z, mode='markers', scene=scene,
                  marker=dict(size=size, color=tv, coloraxis=ca, line=dict(width=0))))

ax_, ay_, az_, at_ = rows(A_PATH)
fig.add_trace(go.Scatter3d(x=ax_, y=ay_, z=az_, mode='lines', scene='scene',
                           line=dict(width=8, color=at_, coloraxis='coloraxis')))
cloud(tagged(B_SPARSE), 'scene2', 'coloraxis2', 2.8)
cloud(tagged(B_MEDIUM), 'scene2', 'coloraxis2', 3.6)
cloud(tagged([(B_BLUE, 950)]), 'scene2', 'coloraxis2', 5.5)
cloud(tagged([(B_NAVY_CORE, 250)]), 'scene2', 'coloraxis2', 6.5)
cloud(tagged([(C_NAVY_BLOB, C_NAVY_BLOB_T)]), 'scene3', 'coloraxis3', 5.2)
cloud(tagged([(C_NAVY_TRAIL, C_NAVY_TRAIL_T)]), 'scene3', 'coloraxis3', 2.6)
cloud(rows(C_GROUPS), 'scene3', 'coloraxis3', 5)
cloud(tagged([(D_NAVY, D_NAVY_T)]), 'scene4', 'coloraxis4', 5)
cloud(rows(D_GROUPS), 'scene4', 'coloraxis4', 5)

fig.update_layout(annotations=anns, **layout)
fig.write_html('out.html', config=dict(displayModeBar=False), post_script="document.body.style.margin='0';")
